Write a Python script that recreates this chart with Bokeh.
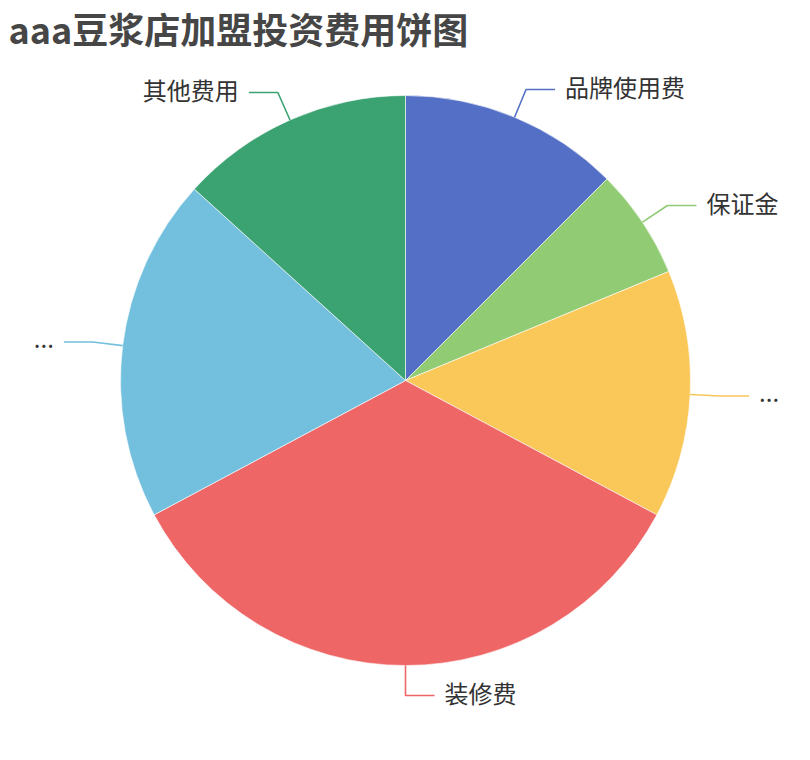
import numpy as np
from bokeh.plotting import figure
from bokeh.models import Range1d, ColumnDataSource
from bokeh.core.properties import value
from bokeh.embed import file_html
from bokeh.resources import INLINE

# ---- data ----
title_text = "aaa豆浆店加盟投资费用饼图"
labels = ["品牌使用费", "保证金", "...", "装修费", "...", "其他费用"]
values = [4, 2, 4.5, 11, 6.25, 4.25]
colors = ["#5470c6", "#91cc75", "#fac858", "#ee6666", "#73c0de", "#3ba272"]

# ---- layout (screen px of the picture, y measured downward) ----
W, H = 794, 744
PAGE_H = 760
cx, cy_s = 405, 380
R = 285
LEN1, LEN2, GAP = 30, 29, 10
TEXT_LIFT = 3
FONT = "Noto Sans CJK SC"


def sy(y):  # screen y -> data y
    return PAGE_H - y


p = figure(width=W, height=H, output_backend="svg", toolbar_location=None,
           x_range=Range1d(0, W), y_range=Range1d(PAGE_H - H, PAGE_H),
           min_border=0)
p.axis.visible = False
p.grid.visible = False
p.outline_line_color = None
p.background_fill_color = "white"
p.border_fill_color = "white"

vals = np.array(values, dtype=float)
frac = vals / vals.sum()
cum_after = np.cumsum(frac)
cum_before = cum_after - frac

# ECharts-like: start at 12 o'clock, clockwise
start = np.pi / 2 - cum_after * 2 * np.pi
end = np.pi / 2 - cum_before * 2 * np.pi
src = ColumnDataSource(dict(start=start, end=end, color=colors))
p.wedge(x=cx, y=sy(cy_s), radius=R, start_angle="start", end_angle="end",
        fill_color="color", line_color="white", line_width=0.6, source=src)

# label lines + labels
mid = (cum_before + cum_after) / 2 * 2 * np.pi  # clockwise from top
xs, ys, tx, ty, align = [], [], [], [], []
for i, m in enumerate(mid):
    dx, dy = np.sin(m), np.cos(m)  # dy upward
    side = 1 if dx > -1e-6 else -1
    x0, y0 = cx + R * dx, sy(cy_s) + R * dy
    x1, y1 = cx + (R + LEN1) * dx, sy(cy_s) + (R + LEN1) * dy
    x2, y2 = x1 + side * LEN2, y1
    xs.append([x0, x1, x2])
    ys.append([y0, y1, y2])
    tx.append(x2 + side * GAP)
    ty.append(y2 + TEXT_LIFT)
    align.append("left" if side > 0 else "right")

p.multi_line(xs=xs, ys=ys, line_color=colors, line_width=1.6)
lsrc = ColumnDataSource(dict(x=tx, y=ty, text=labels, align=align))
p.text(x="x", y="y", text="text", text_align="align", text_baseline="middle",
       text_font=value(FONT), text_font_size="24px", text_color="#333333",
       source=lsrc)

# title
p.text(x=[8], y=[sy(27)], text=[title_text], text_align="left",
       text_baseline="middle", text_font=value(FONT), text_font_size="36px",
       text_font_style="bold", text_color="#464646")

open("out.html", "w").write(file_html(p, INLINE))
